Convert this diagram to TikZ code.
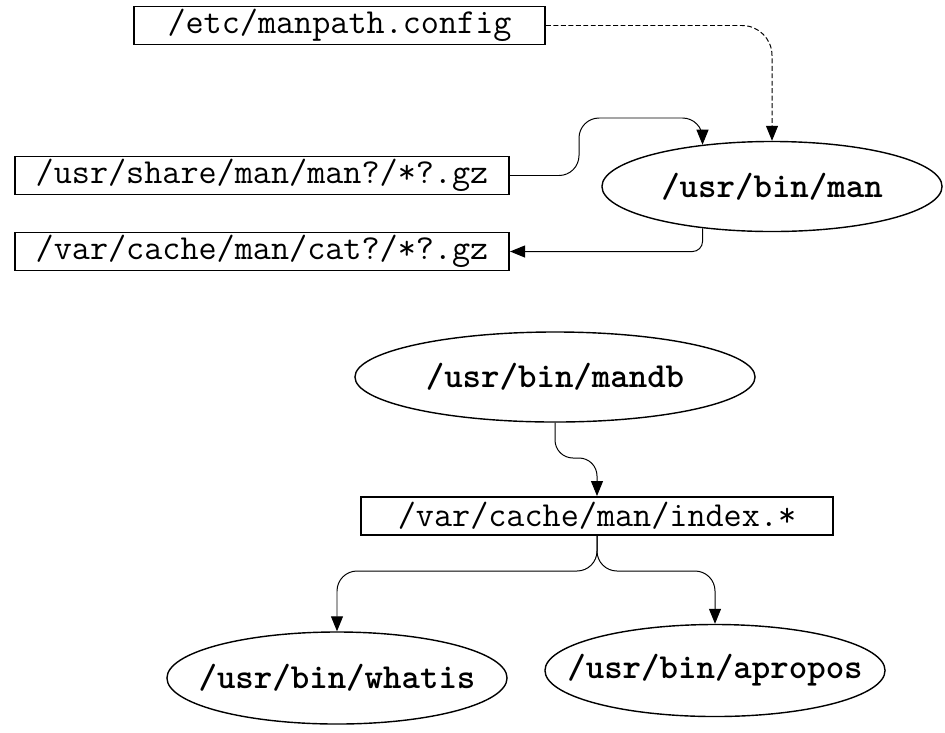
\documentclass[tikz,border=0pt]{standalone}
\usetikzlibrary{arrows.meta,shapes.geometric}

\begin{document}
\begin{tikzpicture}[x=0.025cm,y=-0.025cm,>={Triangle[length=0.375cm,width=0.3cm]},
  line width=0.7pt,
  file node/.style={rectangle,draw,line width=1.4pt,inner sep=0pt,minimum height=0.95cm,font=\ttfamily\fontsize{25}{30}\selectfont},
  prog node/.style={ellipse,draw,line width=1pt,inner sep=0pt,minimum width=8.5cm,minimum height=2.25cm,font=\ttfamily\bfseries\fontsize{25}{30}\selectfont},
  flow/.style={->,rounded corners=0.5cm}]

\useasboundingbox (0,0) rectangle (945,732);

\node[file node,minimum width=10.275cm](etc) at (339.5,25.5) {/etc/manpath.config};
\node[file node,minimum width=12.35cm](share) at (262,175.5) {/usr/share/man/man?/*?.gz};
\node[file node,minimum width=12.35cm](cat) at (262,251.5) {/var/cache/man/cat?/*?.gz};
\node[prog node](man) at (772,186.5) {\makebox[0pt]{/usr/bin/man}};
\node[prog node,minimum width=10cm](mandb) at (555,377) {\makebox[0pt]{/usr/bin/mandb}};
\node[file node,minimum width=11.8cm](index) at (597,516) {/var/cache/man/index.*};
\node[prog node,minimum height=2.3cm](whatis) at (337,678) {\makebox[0pt]{/usr/bin/whatis}};
\node[prog node,minimum height=2.3cm](apropos) at (715,670.5) {\makebox[0pt]{/usr/bin/apropos}};

\coordinate (bend) at (579,118);
\coordinate (mid) at (555,458);
\coordinate (split) at (597,571);

\draw[flow,dash pattern=on 3.5pt off 1.8pt,rounded corners=0.75cm] (etc.east) -| (man.north);
\draw[flow] (share.east) -| (bend) -| (man.149);
\draw[flow,rounded corners=0.25cm] (man.211) |- (cat.east);
\draw[flow,rounded corners=0.45cm] (mandb.south) -- (mid) -| (index.north);
\draw[flow] (index.south) -- (split) -| (whatis.north);
\draw[flow] (index.south) -- (split) -| (apropos.north);

\end{tikzpicture}
\end{document}
